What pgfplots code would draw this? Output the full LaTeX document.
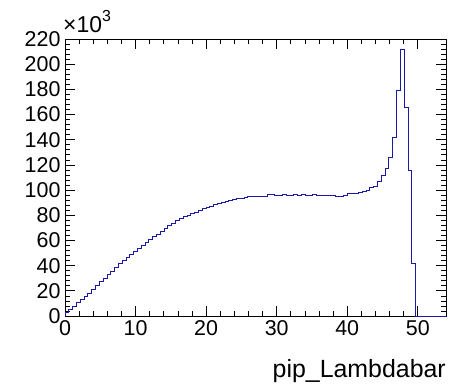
\documentclass[border=0pt]{standalone}
\usepackage{fontspec}
\setmainfont{Liberation Sans}
\usepackage{pgfplots}
\pgfplotsset{compat=1.18}
\definecolor{histblue}{rgb}{0.1,0.1,0.65}
\begin{document}
\begin{tikzpicture}
\begin{axis}[name=ax, scale only axis, width=381bp, height=277bp,
 xmin=0, xmax=54, ymin=0, ymax=220,
 xtick={0,10,...,50}, ytick={0,20,...,220},
 minor x tick num=4, minor y tick num=4,
 tick align=inside, major tick length=10bp, minor tick length=5bp,
 axis line style={line width=0.9bp},
 every tick/.style={black, line width=0.7bp},
 tick label style={font=\fontsize{21.5}{24}\selectfont},
 yticklabel style={xshift=-1bp},
 xticklabel style={yshift=-1bp},
 /pgf/number format/assume math mode=true,
 clip=false,
]
\addplot[const plot, histblue, line width=0.8bp] coordinates {
(0,0) (0,2.6) (0.54,5.3) (1.08,8.0) (1.62,10.5) (2.16,12.8) (2.70,15.2)
(3.24,18.2) (3.78,21.3) (4.32,24.3) (4.86,27.3) (5.40,30.2) (5.94,33.0)
(6.48,35.8) (7.02,38.6) (7.56,41.4) (8.10,44.1) (8.64,46.6) (9.18,49.1)
(9.72,51.6) (10.26,54.0) (10.80,56.3) (11.34,58.5) (11.88,60.7) (12.42,62.9)
(12.96,65.0) (13.50,67.5) (14.04,69.6) (14.58,71.7) (15.12,73.7) (15.66,75.8)
(16.20,77.4) (16.74,78.8) (17.28,80.1) (17.82,81.3) (18.36,82.6) (18.90,83.9)
(19.44,85.1) (19.98,86.3) (20.52,87.4) (21.06,88.4) (21.60,89.3) (22.14,90.2)
(22.68,91.0) (23.22,91.7) (23.76,92.4) (24.30,93.1) (24.84,93.6) (25.38,94.1)
(25.92,94.6) (26.46,95.0) (27.00,95.1) (27.54,95.2) (28.08,95.2) (28.62,96.2)
(29.16,96.2) (29.70,95.6) (30.24,95.6) (30.78,96.2) (31.32,95.6) (31.86,95.6)
(32.40,96.2) (32.94,95.6) (33.48,96.2) (34.02,95.6) (34.56,95.6) (35.10,96.2)
(35.64,95.6) (36.18,95.6) (36.72,95.6) (37.26,95.6) (37.80,95.4) (38.34,94.8)
(38.88,94.8) (39.42,95.8) (39.96,97.0) (40.50,97.0) (41.04,97.1) (41.58,97.8)
(42.12,98.6) (42.66,99.6) (43.20,101.8) (43.74,103.2) (44.28,107.0) (44.82,111.6)
(45.36,117.5) (45.90,125.7) (46.44,141.6) (46.98,178.8) (47.52,211.5) (48.06,166.0)
(48.60,116.0) (49.14,42.0) (49.68,0) (54,0)
};
\node[anchor=base west, font=\fontsize{23}{26}\selectfont, inner sep=0, xshift=-2bp, yshift=6bp] at (rel axis cs:0,1) {×10\raisebox{0.5em}{\fontsize{16}{18}\selectfont 3}};
\node[anchor=base east, font=\fontsize{25}{28}\selectfont, inner sep=0, yshift=-61bp] at (rel axis cs:1,0) {pip\_Lambdabar};
\end{axis}
\path ([shift={(-65bp,-72bp)}]ax.south west) rectangle ([shift={(17bp,39bp)}]ax.north east);
\end{tikzpicture}
\end{document}
